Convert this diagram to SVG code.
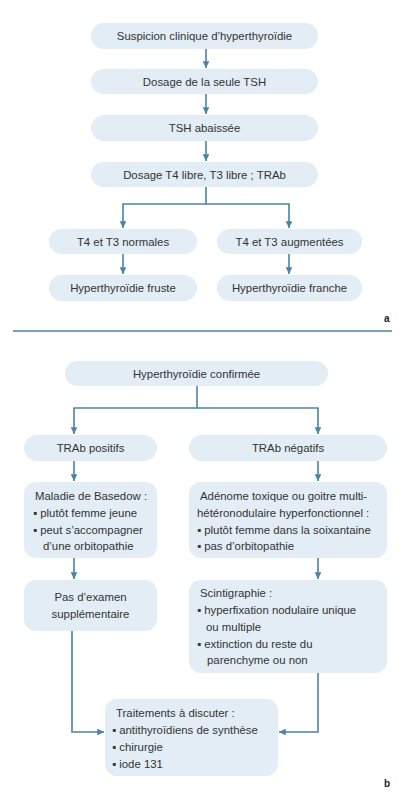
<svg xmlns="http://www.w3.org/2000/svg" width="405" height="800" viewBox="0 0 405 800">
<style>
.box{fill:#e2edf6;}
.t{font-family:"Liberation Sans","DejaVu Sans",Arial,sans-serif;font-size:11.4px;fill:#333;}
.c{text-anchor:middle;}
.con{fill:none;stroke:#4c84a3;stroke-width:1.6;}
.lab{font-family:"Liberation Sans",Arial,sans-serif;font-size:10px;font-weight:bold;fill:#222;}
</style>
<defs>
<marker id="ah" viewBox="0 0 10 10" refX="10" refY="5" markerWidth="4.2" markerHeight="4.2" orient="auto" markerUnits="strokeWidth">
<path d="M0,0 L10,5 L0,10 Z" fill="#4c84a3"/>
</marker>
</defs>
<rect width="405" height="800" fill="#fff"/>

<g id="connectors">
<line class="con" x1="206" y1="49" x2="206" y2="68" marker-end="url(#ah)"/>
<line class="con" x1="206" y1="94" x2="206" y2="114" marker-end="url(#ah)"/>
<line class="con" x1="206" y1="141" x2="206" y2="161" marker-end="url(#ah)"/>
<polyline class="con" points="206,187 206,204 123,204 123,228" marker-end="url(#ah)"/>
<polyline class="con" points="206,204 289,204 289,228" marker-end="url(#ah)"/>
<line class="con" x1="123" y1="254" x2="123" y2="274" marker-end="url(#ah)"/>
<line class="con" x1="289" y1="254" x2="289" y2="274" marker-end="url(#ah)"/>
<line x1="13" y1="331" x2="392" y2="331" stroke="#4c84a3" stroke-width="1.6"/>
<polyline class="con" points="197,386 197,408 74,408 74,434" marker-end="url(#ah)"/>
<polyline class="con" points="197,408 318,408 318,434" marker-end="url(#ah)"/>
<line class="con" x1="74" y1="461" x2="74" y2="481" marker-end="url(#ah)"/>
<line class="con" x1="318" y1="461" x2="318" y2="481" marker-end="url(#ah)"/>
<line class="con" x1="74" y1="558" x2="74" y2="579" marker-end="url(#ah)"/>
<line class="con" x1="318" y1="558" x2="318" y2="579" marker-end="url(#ah)"/>
<polyline class="con" points="72,631 72,732 104,732" marker-end="url(#ah)"/>
<polyline class="con" points="318,673 318,732 279,732" marker-end="url(#ah)"/>
</g>

<g id="n1"><rect class="box" x="91" y="23" width="227" height="26" rx="13"/><text class="t c" x="204.5" y="40">Suspicion clinique d’hyperthyroïdie</text></g>
<g id="n2"><rect class="box" x="91" y="69" width="227" height="25" rx="12.5"/><text class="t c" x="204.5" y="85.5">Dosage de la seule TSH</text></g>
<g id="n3"><rect class="box" x="91" y="115" width="227" height="26" rx="13"/><text class="t c" x="204.5" y="132">TSH abaissée</text></g>
<g id="n4"><rect class="box" x="91" y="162" width="227" height="25" rx="12.5"/><text class="t c" x="204.5" y="178.5">Dosage T4 libre, T3 libre ; TRAb</text></g>
<g id="n5"><rect class="box" x="49" y="229" width="148" height="25" rx="12.5"/><text class="t c" x="123" y="245.5">T4 et T3 normales</text></g>
<g id="n6"><rect class="box" x="217" y="229" width="145" height="25" rx="12.5"/><text class="t c" x="289.5" y="245.5">T4 et T3 augmentées</text></g>
<g id="n7"><rect class="box" x="49" y="275" width="148" height="26" rx="13"/><text class="t c" x="123" y="292">Hyperthyroïdie fruste</text></g>
<g id="n8"><rect class="box" x="217" y="275" width="145" height="26" rx="13"/><text class="t c" x="289.5" y="292">Hyperthyroïdie franche</text></g>
<text class="lab" x="384" y="322">a</text>

<g id="n9"><rect class="box" x="65" y="361" width="263" height="25" rx="12.5"/><text class="t c" x="196.5" y="377.5">Hyperthyroïdie confirmée</text></g>
<g id="n10"><rect class="box" x="24" y="435" width="133" height="26" rx="13"/><text class="t c" x="90.5" y="452">TRAb positifs</text></g>
<g id="n11"><rect class="box" x="189" y="435" width="198" height="26" rx="13"/><text class="t c" x="288" y="452">TRAb négatifs</text></g>
<g id="n12"><rect class="box" x="24" y="482" width="133" height="76" rx="12"/>
<text class="t" x="35" y="500">Maladie de Basedow :</text>
<text class="t" x="33" y="517">▪ plutôt femme jeune</text>
<text class="t" x="33" y="533.5">▪ peut s’accompagner</text>
<text class="t" x="43" y="550">d’une orbitopathie</text></g>
<g id="n13"><rect class="box" x="189" y="482" width="198" height="76" rx="12"/>
<text class="t" x="200" y="500">Adénome toxique ou goitre multi-</text>
<text class="t" x="197" y="517">hétéronodulaire hyperfonctionnel :</text>
<text class="t" x="197" y="533.5">▪ plutôt femme dans la soixantaine</text>
<text class="t" x="197" y="550">▪ pas d’orbitopathie</text></g>
<g id="n14"><rect class="box" x="24" y="580" width="133" height="51" rx="12"/>
<text class="t c" x="90.5" y="601">Pas d’examen</text>
<text class="t c" x="90.5" y="618">supplémentaire</text></g>
<g id="n15"><rect class="box" x="189" y="580" width="198" height="93" rx="12"/>
<text class="t" x="200" y="597">Scintigraphie :</text>
<text class="t" x="197" y="614">▪ hyperfixation nodulaire unique</text>
<text class="t" x="206" y="631">ou multiple</text>
<text class="t" x="197" y="647.5">▪ extinction du reste du</text>
<text class="t" x="207" y="664">parenchyme ou non</text></g>
<g id="n16"><rect class="box" x="105" y="699" width="173" height="77" rx="12"/>
<text class="t" x="116" y="717">Traitements à discuter :</text>
<text class="t" x="112" y="734">▪ antithyroïdiens de synthèse</text>
<text class="t" x="112" y="751">▪ chirurgie</text>
<text class="t" x="112" y="767.5">▪ iode 131</text></g>
<text class="lab" x="384" y="787">b</text>
</svg>
